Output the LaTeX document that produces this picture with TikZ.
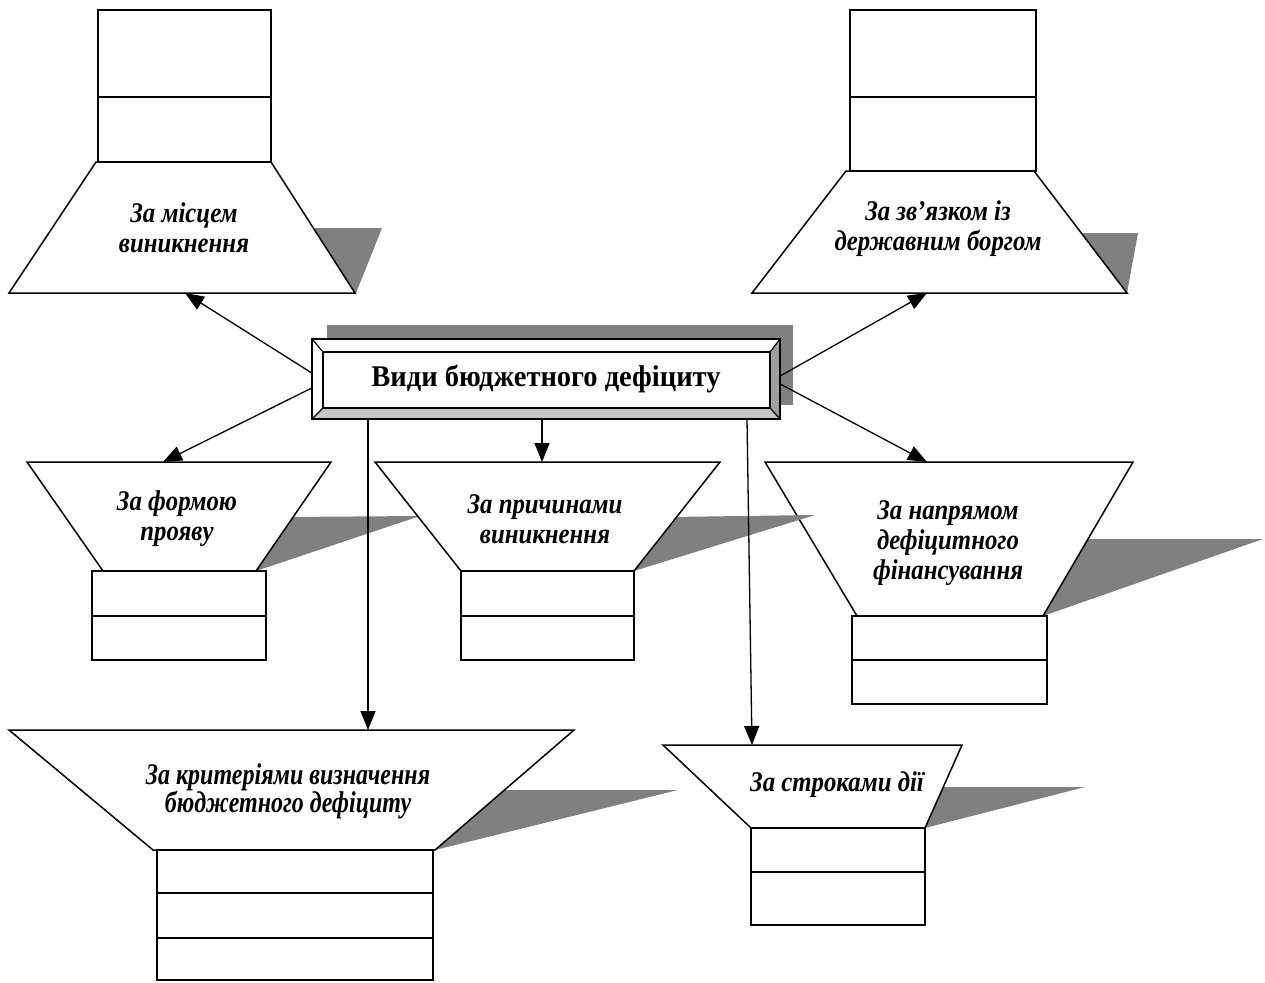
\documentclass[tikz,border=0pt]{standalone}
\usepackage{fontspec}
\setmainfont{Liberation Serif}
\newfontfamily\labelserif{Liberation Serif}[FakeStretch=0.87]
\newfontfamily\titleserif{Liberation Serif}[FakeStretch=0.95]
\newfontfamily\narrowserif{Liberation Serif}[FakeStretch=0.8]
\usetikzlibrary{arrows.meta}

\begin{document}
\begin{tikzpicture}[x=1pt, y=-1pt,
		drop/.style={fill=gray, draw=none},
		trap/.style={draw, fill=white, line width=1.5pt, line join=miter},
		cell/.style={draw, fill=white, line width=1.6pt, inner sep=0pt},
		kind/.style={font=\labelserif\bfseries\itshape\fontsize{28.5}{30}\selectfont, align=center},
		conn/.style={-{Triangle[length=19pt,width=15pt]}, line width=1.3pt}
		]
		\useasboundingbox (0,0) rectangle (1265,982);
		
		% Central box
		\fill[gray] (327,325) rectangle (793,405);
		\fill[white] (312,339) rectangle (780,419);
		\fill[gray!75] (780,339) -- (780,419) -- (770,408) -- (770,352) -- cycle;
		\fill[gray!45] (312,419) -- (780,419) -- (770,408) -- (323,408) -- cycle;
		\draw[line width=1.2pt] (323,352) rectangle (770,408);
		\draw[line width=1.2pt] (312,339) -- (323,352) (780,339) -- (770,352)
			(312,419) -- (323,408) (780,419) -- (770,408);
		\draw[line width=2pt] (312,339) rectangle (780,419);
		\node[minimum width=468pt, minimum height=80pt, inner sep=0pt,
			font=\titleserif\bfseries\fontsize{30}{30}\selectfont] (vydy) at (546,379) {Види бюджетного дефіциту};
		
		% За місцем виникнення
		\node[cell, minimum width=173pt, minimum height=87pt] (misceA) at (184.5,53.5) {};
		\node[cell, minimum width=173pt, minimum height=65pt] (misceB) at (184.5,129.5) {};
		\fill[drop] (300,228) -- (382,228) -- (356,293) -- cycle;
		\draw[trap] (96,162) -- (271,162) -- (355,293) -- (9,293) -- cycle;
		\node[kind] (misce) at (184,228) {За місцем\\виникнення};
		\coordinate (misceIn) at (185,293);
		
		% За зв'язком із державним боргом
		\node[cell, minimum width=186pt, minimum height=87pt] (zvjazokA) at (943,53.5) {};
		\node[cell, minimum width=186pt, minimum height=74pt] (zvjazokB) at (943,134) {};
		\fill[drop] (1060,233) -- (1138,233) -- (1127,293) -- cycle;
		\draw[trap] (846,171) -- (1034,171) -- (1127,293) -- (752,293) -- cycle;
		\node[kind] (zvjazok) at (938,229) {За зв’язком із\\державним боргом};
		\coordinate (zvjazokIn) at (927,293);
		
		% За формою прояву
		\fill[drop] (285,517) -- (420,516) -- (256,571) -- cycle;
		\draw[trap] (27,462) -- (331,462) -- (256,571) -- (103,571) -- cycle;
		\node[cell, minimum width=174pt, minimum height=45pt] (formaA) at (179,593.5) {};
		\node[cell, minimum width=174pt, minimum height=44pt] (formaB) at (179,638) {};
		\node[kind] (forma) at (177,519) {За формою\\прояву};
		\coordinate (formaIn) at (163,462);
		
		% За напрямом дефіцитного фінансування
		\fill[drop] (1080,539) -- (1263,539) -- (1043,616) -- cycle;
		\draw[trap] (765,462) -- (1133,462) -- (1043,616) -- (857,616) -- cycle;
		\node[cell, minimum width=195pt, minimum height=44pt] (naprjamA) at (949.5,638) {};
		\node[cell, minimum width=195pt, minimum height=44pt] (naprjamB) at (949.5,682) {};
		\node[kind] (naprjam) at (948,543) {За напрямом\\дефіцитного\\фінансування};
		\coordinate (naprjamIn) at (927,462);
		
		% За причинами виникнення
		\fill[drop] (670,517) -- (815,515) -- (634,571) -- cycle;
		\draw[trap] (375,462) -- (720,462) -- (634,571) -- (461,571) -- cycle;
		\node[cell, minimum width=173pt, minimum height=45pt] (prychynaA) at (547.5,593.5) {};
		\node[cell, minimum width=173pt, minimum height=44pt] (prychynaB) at (547.5,638) {};
		\node[kind] (prychyna) at (545,519) {За причинами\\виникнення};
		\coordinate (prychynaIn) at (542,462);
		
		% За критеріями визначення бюджетного дефіциту
		\fill[drop] (490,790) -- (678,790) -- (435,850) -- cycle;
		\draw[trap] (9,730) -- (574,730) -- (435,850) -- (153,850) -- cycle;
		\node[cell, minimum width=276pt, minimum height=43pt] (kryteriiA) at (295,871.5) {};
		\node[cell, minimum width=276pt, minimum height=45pt] (kryteriiB) at (295,915.5) {};
		\node[cell, minimum width=276pt, minimum height=42pt] (kryteriiC) at (295,959) {};
		\node[kind, font=\narrowserif\bfseries\itshape\fontsize{30}{28}\selectfont] (kryterii) at (288,791)
			{За критеріями визначення\\бюджетного дефіциту};
		\coordinate (kryteriiIn) at (368,730);
		
		% За строками дії
		\fill[drop] (940,787) -- (1085,787) -- (925,828) -- cycle;
		\draw[trap] (663,745) -- (962,745) -- (925,828) -- (751,828) -- cycle;
		\node[cell, minimum width=174pt, minimum height=44pt] (strokyA) at (838,850) {};
		\node[cell, minimum width=174pt, minimum height=53pt] (strokyB) at (838,898.5) {};
		\node[kind] (stroky) at (837,785) {За строками дії};
		\coordinate (strokyIn) at (752,745);
		
		% Arrows
		\draw[conn] ([yshift=6pt]vydy.west) -- (misceIn);
		\draw[conn] ([yshift=-9pt]vydy.west) -- (formaIn);
		\draw[conn] ([yshift=3pt]vydy.east) -- (zvjazokIn);
		\draw[conn] ([yshift=-5pt]vydy.east) -- (naprjamIn);
		\draw[conn] (vydy.south -| prychynaIn) -- (prychynaIn);
		\draw[conn] (vydy.south -| kryteriiIn) -- (kryteriiIn);
		\draw[conn] ([xshift=201pt]vydy.south) -- (strokyIn);
		
	\end{tikzpicture}
\end{document}
